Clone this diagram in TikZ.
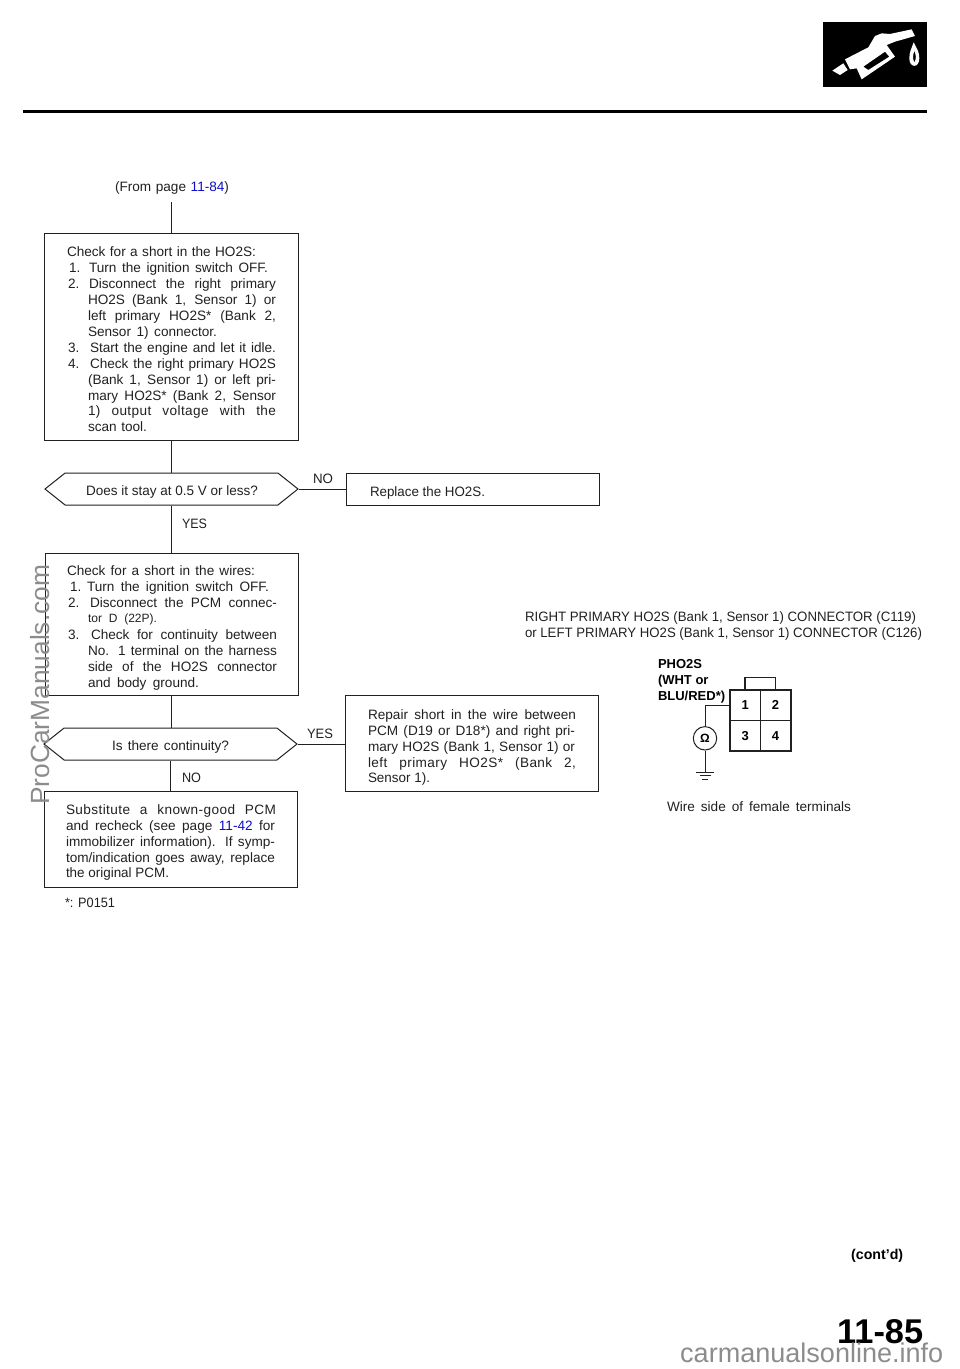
\documentclass[tikz,border=0pt]{standalone}
\usepackage{fontspec}
\setmainfont{Liberation Sans}
\usetikzlibrary{shapes.symbols}
\definecolor{ink}{gray}{0.13}
\definecolor{linkblue}{rgb}{0.05,0.05,0.8}
\definecolor{wm}{gray}{0.55}
\newcounter{tlc}
\newlength\tlw
\newsavebox\tlb
% sets its text to the width \tlw: stretches the word spaces, or condenses a line that is too long
\newcommand\jl[1]{\sbox\tlb{\spaceskip=.278em\relax #1}%
  \ifdim\wd\tlb>\tlw
    \pgfmathsetmacro{\tlr}{\tlw/\wd\tlb}\scalebox{\tlr}[1]{\usebox\tlb}%
  \else
    \hbox to \tlw{\spaceskip=.278em plus 1fil\relax #1}%
  \fi}
% \tl{x1}{x2}{y}{text}: one printed line, set to run from x1 to x2, centred at y
\newcommand\tl[4]{\stepcounter{tlc}\setlength\tlw{\dimexpr #2pt-#1pt\relax}%
  \node[txt] (tl\arabic{tlc}) at (#1,#3+5.1) {\jl{#4}};}
\newcommand\blu[1]{\textcolor{linkblue}{#1}}
\newcommand\spc{\addfontfeature{LetterSpace=3}}
\tikzset{
  txt/.style={anchor=base west,inner sep=0pt,outer sep=0pt,font=\fontsize{13.6}{15}\selectfont,text=ink},
  flowbox/.style={draw=ink,line width=1pt,rectangle,inner sep=0pt,minimum width=#1},
  decision/.style={draw=ink,line width=1pt,shape=signal,signal to=east and west,signal pointer angle=77,
     inner sep=0pt,minimum width=253pt,minimum height=32pt},
  conn/.style={draw=ink,line width=1pt},
  cell/.style={draw=ink,line width=0.8pt,rectangle,inner sep=0pt,minimum width=30.4pt,minimum height=30.4pt,font=\bfseries\fontsize{13}{15}\selectfont},
  mark label/.style={txt,anchor=base west,font=\bfseries\fontsize{13}{15}\selectfont,text=black},
  watermark/.style={inner sep=0pt,text=wm},
}
\begin{document}
\begin{tikzpicture}[x=1pt,y=-1pt]
\useasboundingbox (0,0) rectangle (960,1369);
\fill[white] (0,0) rectangle (960,1369);

% header
\fill[black] (823,22) rectangle (927,87);
\draw[black,line width=3pt] (23,111.5) -- (927,111.5);
\begin{scope}[shift={(800,10)},x=0.3333pt,y=-0.3333pt]
  \fill[white] (97,182) -- (130,160) -- (143,180) -- (120,195) -- cycle;
  \fill[white,even odd rule] (135,148) -- (205,112) -- (225,78) -- (245,70) -- (270,72) -- (335,58) -- (345,78) -- (285,95) -- (260,105) -- (285,140) -- (185,208) -- (170,175) -- (150,178) -- cycle
     (190,170) -- (255,125) -- (268,140) -- (205,180) -- cycle;
  \fill[white,even odd rule] (341,97) .. controls (350,115) and (358,125) .. (358,145) .. controls (358,175) and (328,175) .. (328,145) .. controls (328,125) and (335,115) .. (341,97) -- cycle
     (343,122) .. controls (348,135) and (350,145) .. (343,158) .. controls (337,145) and (339,135) .. (343,122) -- cycle;
\end{scope}

% flow boxes
\coordinate (start) at (171,202);
\node[flowbox=254pt,minimum height=207pt] (b1) at (171,336.5) {};
\node[decision] (d1) at (171.5,489) {};
\node[flowbox=253pt,minimum height=32pt] (rep) at (472.5,489) {};
\node[flowbox=253pt,minimum height=142pt] (b2) at (171.5,624) {};
\node[decision] (d2) at (170.5,744) {};
\node[flowbox=253pt,minimum height=96pt] (b3) at (170.5,839) {};
\node[flowbox=253pt,minimum height=96pt] (rs) at (471.5,743) {};

\draw[conn] (start) -- (start |- b1.north);
\draw[conn] (b1.south) -- (b1.south |- d1.north);
\draw[conn] (d1.east) -- (rep.west);
\draw[conn] (d1.south) -- (d1.south |- b2.north);
\draw[conn] (b2.south) -- (b2.south |- d2.north);
\draw[conn] (d2.east) -- (d2.east -| rs.west);
\draw[conn] (d2.south) -- (d2.south |- b3.north);

% text
\tl{115}{229}{186}{(From page \blu{11-84})}

\tl{67}{256}{251}{Check for a short in the HO2S:}
\tl{69}{81}{267}{1.}\tl{89}{268}{267}{Turn the ignition switch OFF.}
\tl{68}{80}{283}{2.}\tl{89}{276}{283}{Disconnect the right primary}
\tl{88}{276}{299}{HO2S (Bank 1, Sensor 1) or}
\tl{88}{276}{315}{left primary HO2S* (Bank 2,}
\tl{88}{217}{331}{Sensor 1) connector.}
\tl{68}{80}{347}{3.}\tl{90}{276}{347}{Start the engine and let it idle.}
\tl{68}{80}{363}{4.}\tl{90}{276}{363}{Check the right primary HO2S}
\tl{88}{276}{379}{(Bank 1, Sensor 1) or left pri-}
\tl{88}{276}{395}{mary HO2S* (Bank 2, Sensor}
\tl{88}{276}{410}{\spc 1) output voltage with the}
\tl{88}{147}{426}{scan tool.}

\tl{86}{258}{490}{Does it stay at 0.5 V or less?}
\tl{313}{333}{478}{NO}
\tl{370}{485}{491}{Replace the HO2S.}
\tl{182}{207}{523}{YES}

\tl{67}{255}{570}{Check for a short in the wires:}
\tl{70}{82}{586}{1.}\tl{87}{269}{586}{Turn the ignition switch OFF.}
\tl{68}{80}{602}{2.}\tl{90}{277}{602}{Disconnect the PCM connec-}
\stepcounter{tlc}\setlength\tlw{69pt}\node[txt,font=\fontsize{12}{13}\selectfont] (tl\arabic{tlc}) at (88,622.5) {\jl{tor D (22P).}};
\tl{68}{80}{634}{3.}\tl{91}{277}{634}{Check for continuity between}
\tl{88}{277}{650}{No. 1 terminal on the harness}
\tl{88}{277}{666}{side of the HO2S connector}
\tl{88}{199}{682}{and body ground.}

\tl{112}{229}{745}{Is there continuity?}
\tl{307}{333}{733}{YES}
\tl{182}{201}{777}{NO}

\tl{66}{276}{809}{\spc Substitute a known-good PCM}
\tl{66}{275}{825}{and recheck (see page \blu{11-42} for}
\tl{66}{275}{841}{immobilizer information). If symp-}
\tl{66}{275}{857}{tom/indication goes away, replace}
\tl{66}{169}{872}{the original PCM.}
\tl{65}{115}{902}{*: P0151}

\tl{368}{576}{714}{Repair short in the wire between}
\tl{368}{575}{730}{PCM (D19 or D18*) and right pri-}
\tl{368}{575}{746}{mary HO2S (Bank 1, Sensor 1) or}
\tl{368}{576}{762}{\spc left primary HO2S* (Bank 2,}
\tl{368}{430}{777}{Sensor 1).}

\tl{525}{916}{616}{RIGHT PRIMARY HO2S (Bank 1, Sensor 1) CONNECTOR (C119)}
\tl{525}{922}{632}{or LEFT PRIMARY HO2S (Bank 1, Sensor 1) CONNECTOR (C126)}
\tl{667}{851}{806}{Wire side of female terminals}

% connector
\node[mark label] (pl1) at (658,668) {PHO2S};
\node[mark label] (pl2) at (658,684) {(WHT or};
\node[mark label] (pl3) at (658,700) {BLU/RED*)};
\node[cell] (c1) at (745.2,705.2) {1};
\node[cell] (c2) at (775.6,705.2) {2};
\node[cell] (c3) at (745.2,735.6) {3};
\node[cell] (c4) at (775.6,735.6) {4};
\draw[ink,line width=1.6pt] (c1.north west) rectangle (c4.south east);
\draw[ink,line width=1.2pt] (745,690) -- (745,677.7) -- (775.7,677.7) -- (775.7,690);
\node[draw=ink,line width=1pt,circle,inner sep=0pt,minimum size=23.4pt,font=\bfseries\fontsize{12}{14}\selectfont] (ohm) at (705,738.3) {Ω};
\coordinate (gnd) at (705,772);
\draw[conn] (c1.west) -| (ohm.north);
\draw[conn] (ohm.south) -- (gnd);
\draw[ink,line width=1pt] (696,772) -- (714,772) (699.5,775.5) -- (710.5,775.5) (702,779) -- (708,779);

% page furniture
\node[inner sep=0pt,font=\bfseries\fontsize{13.5}{15}\selectfont,text=black,anchor=base west] (contd) at (851,1259) {\resizebox{52pt}{!}{(cont’d)}};
\node[inner sep=0pt,font=\bfseries\fontsize{30}{32}\selectfont,text=black,anchor=base west] (pagenum) at (837,1343) {\resizebox{86pt}{!}{11-85}};

% watermarks
\node[watermark,rotate=90,anchor=base west] (wm1) at (49,805) {\resizebox{240pt}{!}{ProCarManuals.com}};
\node[watermark,anchor=base west] (wm2) at (680,1362.5) {\resizebox{263pt}{!}{carmanualsonline.info}};
\end{tikzpicture}
\end{document}
